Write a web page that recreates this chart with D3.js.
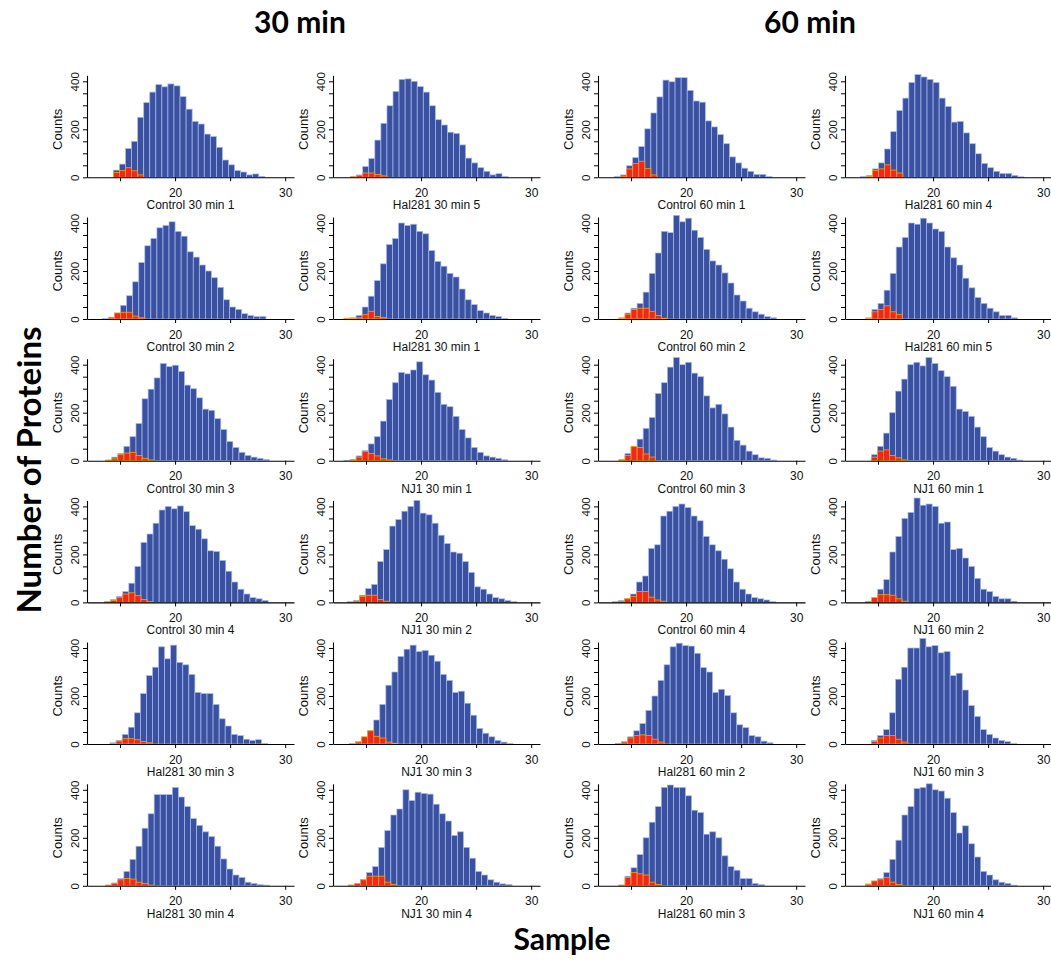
<!DOCTYPE html>
<html>
<head>
<meta charset="utf-8">
<script src="https://cdn.jsdelivr.net/npm/d3@7"></script>
<style>
  body { margin: 0; background: #ffffff; }
  svg { display: block; }
</style>
</head>
<body>
<svg id="chart" width="1051" height="972"></svg>
<script>
// ---- Data -----------------------------------------------------------------
// Panels are listed column by column (6 panels per column, 4 columns).
const sampleNames = [
  "Control 30 min 1", "Control 30 min 2", "Control 30 min 3", "Control 30 min 4", "Hal281 30 min 3", "Hal281 30 min 4",
  "Hal281 30 min 5", "Hal281 30 min 1", "NJ1 30 min 1", "NJ1 30 min 2", "NJ1 30 min 3", "NJ1 30 min 4",
  "Control 60 min 1", "Control 60 min 2", "Control 60 min 3", "Control 60 min 4", "Hal281 60 min 2", "Hal281 60 min 3",
  "Hal281 60 min 4", "Hal281 60 min 5", "NJ1 60 min 1", "NJ1 60 min 2", "NJ1 60 min 3", "NJ1 60 min 4"
];

// Left edge (log2 intensity) of the first histogram bin of each sample
const binStarts = [
  14.4, 13.4, 13.7, 13.6, 14.1, 13.7,
  13.6, 13.0, 13.0, 13.3, 13.5, 13.4,
  13.5, 13.9, 13.9, 13.3, 13.6, 13.9,
  13.4, 13.9, 14.4, 13.87, 14.4, 13.87
];
const binWidth = 0.55;

// Counts of all quantified proteins per bin
const totalCounts = [
  [30,55,120,150,250,311,355,386,377,389,381,336,284,233,222,180,170,125,72,52,28,22,10,14,4],
  [2,8,25,57,97,155,235,305,336,380,390,405,365,345,280,258,225,200,172,132,80,50,40,22,15,10,10],
  [3,15,30,60,100,155,258,298,345,405,392,398,372,315,300,262,215,210,175,130,80,55,35,22,15,10,5],
  [3,12,25,45,80,150,250,285,330,385,400,390,402,378,320,305,265,215,212,175,130,85,55,35,20,15,8],
  [5,15,40,70,130,210,285,320,405,355,412,340,330,290,215,210,210,165,105,75,40,35,20,15,18,3],
  [3,12,30,60,110,165,240,300,380,380,380,410,370,330,280,252,225,205,165,112,70,45,35,15,10,5,3],
  [3,10,45,78,155,225,298,358,408,410,400,378,355,298,240,218,188,183,135,80,60,40,25,10,15,3],
  [3,5,15,50,95,160,230,310,335,400,390,395,365,355,285,240,220,190,175,125,80,60,35,25,15,10,3],
  [2,5,20,42,70,100,165,255,325,368,362,378,412,358,336,285,235,225,185,130,95,55,35,20,15,10,4],
  [3,8,30,58,75,170,220,318,345,380,400,425,372,365,330,280,245,210,205,170,125,65,55,35,20,15,8,3],
  [3,10,25,55,100,165,245,300,365,395,412,385,390,370,345,290,265,215,220,170,120,65,45,30,15,8,3],
  [3,8,25,55,80,160,230,295,320,400,355,390,385,382,340,300,270,210,225,160,115,60,45,25,15,8,5],
  [3,10,48,82,128,202,268,335,405,398,415,415,362,318,313,235,210,178,140,85,60,38,25,12,12,3],
  [5,25,45,65,112,190,275,365,360,432,405,420,370,340,290,242,225,192,150,100,75,45,30,20,10,5],
  [5,30,55,90,135,180,280,325,390,430,400,410,365,350,270,220,235,195,140,85,65,40,25,12,10,3],
  [3,8,15,35,85,110,225,240,360,380,400,410,395,360,340,275,240,215,180,140,85,55,35,20,15,10,3],
  [3,10,30,55,85,140,200,265,330,405,420,410,408,378,318,300,215,228,202,130,80,68,35,30,12,5],
  [3,40,75,130,200,265,330,410,420,410,410,375,315,305,215,225,200,125,80,65,30,30,10,5],
  [3,8,35,60,118,190,278,330,395,428,418,408,395,330,295,230,233,185,140,98,58,40,25,16,16,8,2],
  [5,40,65,120,190,300,340,400,395,420,400,375,365,300,255,225,170,130,90,65,45,30,15,15,5],
  [25,60,115,200,290,340,400,410,395,430,405,375,350,310,215,205,185,140,100,55,40,25,15,10,3],
  [3,10,55,95,210,275,350,375,435,405,410,400,330,335,220,225,185,150,100,55,45,25,15,15,5],
  [15,35,60,130,270,320,400,400,440,405,410,380,385,285,295,225,160,115,60,40,25,15,10,3],
  [8,20,30,55,110,190,295,330,405,410,425,400,395,365,305,220,250,175,120,60,45,25,15,10,3]
];

// Counts of the highlighted protein subset per bin (same bins)
const subsetCounts = [
  [20,28,40,27,10],
  [0,5,25,28,28,12,5],
  [2,8,25,32,35,22,10,3],
  [2,8,20,35,40,28,12,3],
  [3,12,22,22,18,10,5],
  [3,10,25,30,28,15,10,3],
  [2,8,18,18,12,6],
  [3,2,5,18,32,10,7],
  [0,3,15,38,30,20,8,3],
  [0,5,25,30,30,12,5],
  [0,8,30,55,32,25,8,3],
  [3,10,25,40,40,40,15,5],
  [0,5,35,57,67,36,10],
  [3,20,40,45,45,32,15,3],
  [3,22,60,55,28,15],
  [0,3,15,25,45,45,22,10,5],
  [2,8,25,35,38,35,20,8],
  [3,35,55,50,45,15,5],
  [0,3,28,35,52,30,18],
  [2,30,40,55,30,18],
  [15,40,45,22,12,3],
  [3,20,32,32,30,15,5],
  [10,25,35,35,20,8],
  [5,20,25,35,15,5]
];

const xTickValues = [15, 20, 25, 30];
const xTickLabels = [20, 30];
const yTickValues = [0, 50, 100, 150, 200, 250, 300, 350, 400];
const yTickLabels = [0, 200, 400];
const groupTitles = ["30 min", "60 min"];
const yTitle = "Counts";
const figureXTitle = "Sample";
const figureYTitle = "Number of Proteins";

// ---- Layout ---------------------------------------------------------------
const svg = d3.select("#chart");
const colX = [87, 333, 598, 845];                     // left edge (y axis) of each panel column
const rowY = [177.3, 319, 460.7, 602.4, 744, 885.8];  // baseline (x axis) of each panel row
const rowsPerCol = 6;

const x = d3.scaleLinear().domain([12, 30.8]).range([0, 207]);
const y = d3.scaleLinear().domain([0, 425]).range([0, -102]);

const panelFont = "'Liberation Sans', Arial, Helvetica, sans-serif";
const titleFont = "Lato, 'Open Sans', sans-serif";

sampleNames.forEach((name, i) => {
  const col = Math.floor(i / rowsPerCol);
  const row = i % rowsPerCol;
  const g = svg.append("g").attr("transform", `translate(${colX[col]},${rowY[row]})`);

  const start = binStarts[i];
  const bw = x(binWidth) - x(0);

  // all proteins
  g.append("g").selectAll("rect")
    .data(totalCounts[i])
    .join("rect")
    .attr("x", (d, k) => x(start + k * binWidth))
    .attr("y", d => y(d))
    .attr("width", bw)
    .attr("height", d => -y(d))
    .attr("fill", "#3a51a2")
    .attr("stroke", "#a9bce8")
    .attr("stroke-width", 0.7);

  // highlighted subset
  g.append("g").selectAll("rect")
    .data(subsetCounts[i])
    .join("rect")
    .attr("x", (d, k) => x(start + k * binWidth))
    .attr("y", d => y(d))
    .attr("width", bw)
    .attr("height", d => -y(d))
    .attr("fill", "#f3261b")
    .attr("stroke", "#f6a21c")
    .attr("stroke-width", 0.8);

  // x axis
  const xa = g.append("g")
    .call(d3.axisBottom(x)
      .tickValues(xTickValues)
      .tickFormat(d => xTickLabels.includes(d) ? d : "")
      .tickSize(4)
      .tickSizeOuter(0)
      .tickPadding(7));
  xa.select(".domain").attr("stroke", "#000").attr("stroke-width", 1.1);
  xa.selectAll(".tick line").attr("stroke", "#000");
  xa.selectAll("text").attr("font-family", panelFont).attr("font-size", 12).attr("fill", "#111");

  // y axis
  const ya = g.append("g")
    .call(d3.axisLeft(y)
      .tickValues(yTickValues)
      .tickFormat(d => yTickLabels.includes(d) ? d : "")
      .tickSize(4)
      .tickSizeOuter(0));
  ya.select(".domain").attr("stroke", "#000").attr("stroke-width", 1.1);
  ya.selectAll(".tick line").attr("stroke", "#000");
  ya.selectAll("text")
    .attr("transform", "rotate(-90)")
    .attr("x", 0)
    .attr("y", -8)
    .attr("dy", 0)
    .attr("text-anchor", "middle")
    .attr("font-family", panelFont)
    .attr("font-size", 11.5)
    .attr("fill", "#111");

  // axis titles
  g.append("text")
    .attr("transform", `translate(-25,${y(200)}) rotate(-90)`)
    .attr("text-anchor", "middle")
    .attr("font-family", panelFont)
    .attr("font-size", 13)
    .attr("fill", "#111")
    .text(yTitle);

  g.append("text")
    .attr("x", (x.range()[0] + x.range()[1]) / 2)
    .attr("y", 32)
    .attr("text-anchor", "middle")
    .attr("font-family", panelFont)
    .attr("font-size", 12)
    .attr("fill", "#111")
    .text(name);
});

// ---- Figure titles ---------------------------------------------------------
const groupCenters = [300, 810];
svg.selectAll("text.group")
  .data(groupTitles)
  .join("text")
  .attr("class", "group")
  .attr("x", (d, i) => groupCenters[i])
  .attr("y", 33)
  .attr("text-anchor", "middle")
  .attr("font-family", titleFont)
  .attr("font-weight", 700)
  .attr("font-size", 30)
  .attr("fill", "#000")
  .text(d => d);

svg.append("text")
  .attr("transform", "translate(41,470) rotate(-90)")
  .attr("text-anchor", "middle")
  .attr("font-family", titleFont)
  .attr("font-weight", 700)
  .attr("font-size", 33)
  .attr("fill", "#000")
  .text(figureYTitle);

svg.append("text")
  .attr("x", 562)
  .attr("y", 950)
  .attr("text-anchor", "middle")
  .attr("font-family", titleFont)
  .attr("font-weight", 700)
  .attr("font-size", 30)
  .attr("fill", "#000")
  .text(figureXTitle);
</script>
</body>
</html>
